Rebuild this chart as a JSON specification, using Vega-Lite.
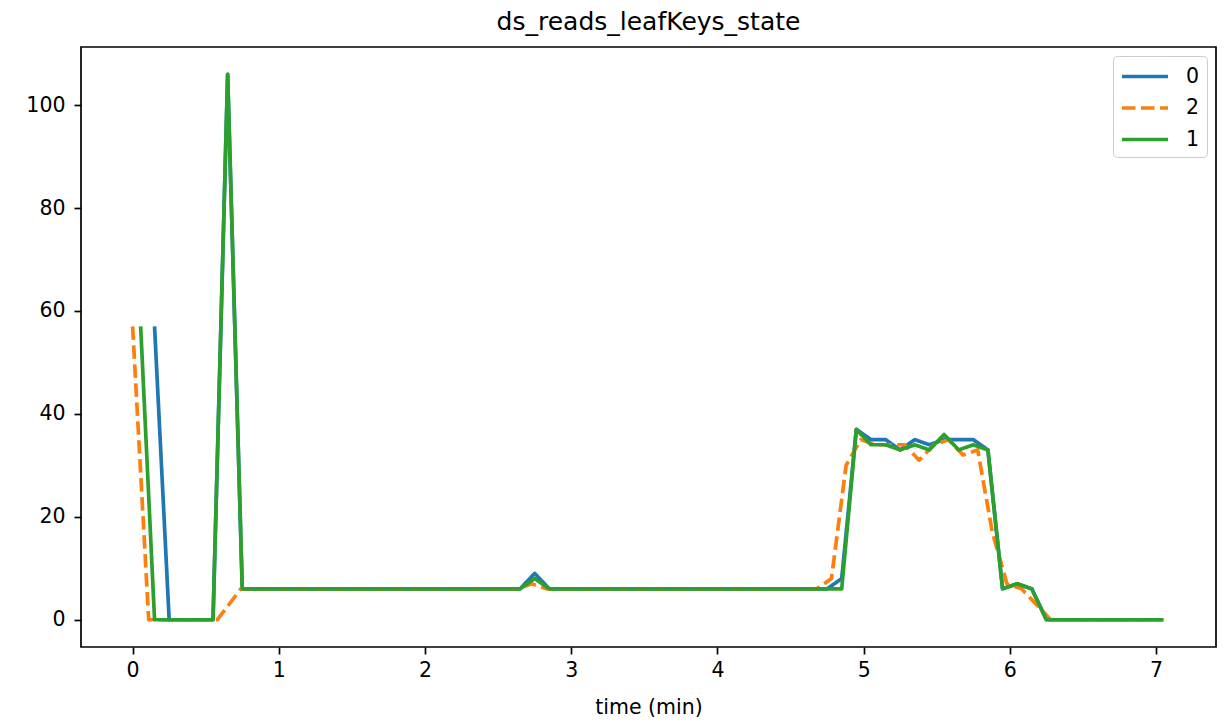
{
  "$schema": "https://vega.github.io/schema/vega-lite/v6.json",
  "width": 1135,
  "height": 600,
  "autosize": {"type": "none"},
  "padding": {"left": 81, "top": 47, "right": 10, "bottom": 78},
  "background": "white",
  "title": {"text": "ds_reads_leafKeys_state", "font": "DejaVu Sans", "fontSize": 25, "fontWeight": "normal", "color": "black", "baseline": "alphabetic", "offset": -8},
  "data": {"values": [
    {"time": 0.15, "value": 57, "series": "0"},
    {"time": 0.25, "value": 0, "series": "0"},
    {"time": 0.35, "value": 0, "series": "0"},
    {"time": 0.45, "value": 0, "series": "0"},
    {"time": 0.55, "value": 0, "series": "0"},
    {"time": 0.65, "value": 106, "series": "0"},
    {"time": 0.75, "value": 6, "series": "0"},
    {"time": 0.85, "value": 6, "series": "0"},
    {"time": 0.95, "value": 6, "series": "0"},
    {"time": 1.05, "value": 6, "series": "0"},
    {"time": 1.15, "value": 6, "series": "0"},
    {"time": 1.25, "value": 6, "series": "0"},
    {"time": 1.35, "value": 6, "series": "0"},
    {"time": 1.45, "value": 6, "series": "0"},
    {"time": 1.55, "value": 6, "series": "0"},
    {"time": 1.65, "value": 6, "series": "0"},
    {"time": 1.75, "value": 6, "series": "0"},
    {"time": 1.85, "value": 6, "series": "0"},
    {"time": 1.95, "value": 6, "series": "0"},
    {"time": 2.05, "value": 6, "series": "0"},
    {"time": 2.15, "value": 6, "series": "0"},
    {"time": 2.25, "value": 6, "series": "0"},
    {"time": 2.35, "value": 6, "series": "0"},
    {"time": 2.45, "value": 6, "series": "0"},
    {"time": 2.55, "value": 6, "series": "0"},
    {"time": 2.65, "value": 6, "series": "0"},
    {"time": 2.75, "value": 9, "series": "0"},
    {"time": 2.85, "value": 6, "series": "0"},
    {"time": 2.95, "value": 6, "series": "0"},
    {"time": 3.05, "value": 6, "series": "0"},
    {"time": 3.15, "value": 6, "series": "0"},
    {"time": 3.25, "value": 6, "series": "0"},
    {"time": 3.35, "value": 6, "series": "0"},
    {"time": 3.45, "value": 6, "series": "0"},
    {"time": 3.55, "value": 6, "series": "0"},
    {"time": 3.65, "value": 6, "series": "0"},
    {"time": 3.75, "value": 6, "series": "0"},
    {"time": 3.85, "value": 6, "series": "0"},
    {"time": 3.95, "value": 6, "series": "0"},
    {"time": 4.05, "value": 6, "series": "0"},
    {"time": 4.15, "value": 6, "series": "0"},
    {"time": 4.25, "value": 6, "series": "0"},
    {"time": 4.35, "value": 6, "series": "0"},
    {"time": 4.45, "value": 6, "series": "0"},
    {"time": 4.55, "value": 6, "series": "0"},
    {"time": 4.65, "value": 6, "series": "0"},
    {"time": 4.75, "value": 6, "series": "0"},
    {"time": 4.85, "value": 8, "series": "0"},
    {"time": 4.95, "value": 37, "series": "0"},
    {"time": 5.05, "value": 35, "series": "0"},
    {"time": 5.15, "value": 35, "series": "0"},
    {"time": 5.25, "value": 33, "series": "0"},
    {"time": 5.35, "value": 35, "series": "0"},
    {"time": 5.45, "value": 34, "series": "0"},
    {"time": 5.55, "value": 35, "series": "0"},
    {"time": 5.65, "value": 35, "series": "0"},
    {"time": 5.75, "value": 35, "series": "0"},
    {"time": 5.85, "value": 33, "series": "0"},
    {"time": 5.95, "value": 6, "series": "0"},
    {"time": 6.05, "value": 7, "series": "0"},
    {"time": 6.15, "value": 6, "series": "0"},
    {"time": 6.25, "value": 0, "series": "0"},
    {"time": 6.35, "value": 0, "series": "0"},
    {"time": 6.45, "value": 0, "series": "0"},
    {"time": 6.55, "value": 0, "series": "0"},
    {"time": 6.65, "value": 0, "series": "0"},
    {"time": 6.75, "value": 0, "series": "0"},
    {"time": 6.85, "value": 0, "series": "0"},
    {"time": 6.95, "value": 0, "series": "0"},
    {"time": 7.05, "value": 0, "series": "0"},

    {"time": 0.0, "value": 57, "series": "2"},
    {"time": 0.11, "value": 0, "series": "2"},
    {"time": 0.23, "value": 0, "series": "2"},
    {"time": 0.33, "value": 0, "series": "2"},
    {"time": 0.43, "value": 0, "series": "2"},
    {"time": 0.58, "value": 0, "series": "2"},
    {"time": 0.74, "value": 6, "series": "2"},
    {"time": 0.83, "value": 6, "series": "2"},
    {"time": 0.93, "value": 6, "series": "2"},
    {"time": 1.03, "value": 6, "series": "2"},
    {"time": 1.13, "value": 6, "series": "2"},
    {"time": 1.23, "value": 6, "series": "2"},
    {"time": 1.33, "value": 6, "series": "2"},
    {"time": 1.43, "value": 6, "series": "2"},
    {"time": 1.53, "value": 6, "series": "2"},
    {"time": 1.63, "value": 6, "series": "2"},
    {"time": 1.73, "value": 6, "series": "2"},
    {"time": 1.83, "value": 6, "series": "2"},
    {"time": 1.93, "value": 6, "series": "2"},
    {"time": 2.03, "value": 6, "series": "2"},
    {"time": 2.13, "value": 6, "series": "2"},
    {"time": 2.23, "value": 6, "series": "2"},
    {"time": 2.33, "value": 6, "series": "2"},
    {"time": 2.43, "value": 6, "series": "2"},
    {"time": 2.53, "value": 6, "series": "2"},
    {"time": 2.63, "value": 6, "series": "2"},
    {"time": 2.73, "value": 7, "series": "2"},
    {"time": 2.83, "value": 6, "series": "2"},
    {"time": 2.93, "value": 6, "series": "2"},
    {"time": 3.03, "value": 6, "series": "2"},
    {"time": 3.13, "value": 6, "series": "2"},
    {"time": 3.23, "value": 6, "series": "2"},
    {"time": 3.33, "value": 6, "series": "2"},
    {"time": 3.43, "value": 6, "series": "2"},
    {"time": 3.53, "value": 6, "series": "2"},
    {"time": 3.63, "value": 6, "series": "2"},
    {"time": 3.73, "value": 6, "series": "2"},
    {"time": 3.83, "value": 6, "series": "2"},
    {"time": 3.93, "value": 6, "series": "2"},
    {"time": 4.03, "value": 6, "series": "2"},
    {"time": 4.13, "value": 6, "series": "2"},
    {"time": 4.23, "value": 6, "series": "2"},
    {"time": 4.33, "value": 6, "series": "2"},
    {"time": 4.43, "value": 6, "series": "2"},
    {"time": 4.53, "value": 6, "series": "2"},
    {"time": 4.68, "value": 6, "series": "2"},
    {"time": 4.78, "value": 8, "series": "2"},
    {"time": 4.88, "value": 30, "series": "2"},
    {"time": 4.98, "value": 35, "series": "2"},
    {"time": 5.08, "value": 34, "series": "2"},
    {"time": 5.18, "value": 34, "series": "2"},
    {"time": 5.28, "value": 34, "series": "2"},
    {"time": 5.38, "value": 31, "series": "2"},
    {"time": 5.48, "value": 34, "series": "2"},
    {"time": 5.58, "value": 35, "series": "2"},
    {"time": 5.68, "value": 32, "series": "2"},
    {"time": 5.78, "value": 33, "series": "2"},
    {"time": 5.88, "value": 17, "series": "2"},
    {"time": 5.98, "value": 7, "series": "2"},
    {"time": 6.08, "value": 6, "series": "2"},
    {"time": 6.18, "value": 3, "series": "2"},
    {"time": 6.28, "value": 0, "series": "2"},
    {"time": 6.38, "value": 0, "series": "2"},
    {"time": 6.48, "value": 0, "series": "2"},
    {"time": 6.58, "value": 0, "series": "2"},
    {"time": 6.68, "value": 0, "series": "2"},
    {"time": 6.78, "value": 0, "series": "2"},
    {"time": 6.88, "value": 0, "series": "2"},
    {"time": 6.98, "value": 0, "series": "2"},

    {"time": 0.055, "value": 57, "series": "1"},
    {"time": 0.15, "value": 0, "series": "1"},
    {"time": 0.25, "value": 0, "series": "1"},
    {"time": 0.35, "value": 0, "series": "1"},
    {"time": 0.45, "value": 0, "series": "1"},
    {"time": 0.55, "value": 0, "series": "1"},
    {"time": 0.65, "value": 106, "series": "1"},
    {"time": 0.75, "value": 6, "series": "1"},
    {"time": 0.85, "value": 6, "series": "1"},
    {"time": 0.95, "value": 6, "series": "1"},
    {"time": 1.05, "value": 6, "series": "1"},
    {"time": 1.15, "value": 6, "series": "1"},
    {"time": 1.25, "value": 6, "series": "1"},
    {"time": 1.35, "value": 6, "series": "1"},
    {"time": 1.45, "value": 6, "series": "1"},
    {"time": 1.55, "value": 6, "series": "1"},
    {"time": 1.65, "value": 6, "series": "1"},
    {"time": 1.75, "value": 6, "series": "1"},
    {"time": 1.85, "value": 6, "series": "1"},
    {"time": 1.95, "value": 6, "series": "1"},
    {"time": 2.05, "value": 6, "series": "1"},
    {"time": 2.15, "value": 6, "series": "1"},
    {"time": 2.25, "value": 6, "series": "1"},
    {"time": 2.35, "value": 6, "series": "1"},
    {"time": 2.45, "value": 6, "series": "1"},
    {"time": 2.55, "value": 6, "series": "1"},
    {"time": 2.65, "value": 6, "series": "1"},
    {"time": 2.75, "value": 8, "series": "1"},
    {"time": 2.85, "value": 6, "series": "1"},
    {"time": 2.95, "value": 6, "series": "1"},
    {"time": 3.05, "value": 6, "series": "1"},
    {"time": 3.15, "value": 6, "series": "1"},
    {"time": 3.25, "value": 6, "series": "1"},
    {"time": 3.35, "value": 6, "series": "1"},
    {"time": 3.45, "value": 6, "series": "1"},
    {"time": 3.55, "value": 6, "series": "1"},
    {"time": 3.65, "value": 6, "series": "1"},
    {"time": 3.75, "value": 6, "series": "1"},
    {"time": 3.85, "value": 6, "series": "1"},
    {"time": 3.95, "value": 6, "series": "1"},
    {"time": 4.05, "value": 6, "series": "1"},
    {"time": 4.15, "value": 6, "series": "1"},
    {"time": 4.25, "value": 6, "series": "1"},
    {"time": 4.35, "value": 6, "series": "1"},
    {"time": 4.45, "value": 6, "series": "1"},
    {"time": 4.55, "value": 6, "series": "1"},
    {"time": 4.65, "value": 6, "series": "1"},
    {"time": 4.75, "value": 6, "series": "1"},
    {"time": 4.85, "value": 6, "series": "1"},
    {"time": 4.95, "value": 37, "series": "1"},
    {"time": 5.05, "value": 34, "series": "1"},
    {"time": 5.15, "value": 34, "series": "1"},
    {"time": 5.25, "value": 33, "series": "1"},
    {"time": 5.35, "value": 34, "series": "1"},
    {"time": 5.45, "value": 33, "series": "1"},
    {"time": 5.55, "value": 36, "series": "1"},
    {"time": 5.65, "value": 33, "series": "1"},
    {"time": 5.75, "value": 34, "series": "1"},
    {"time": 5.85, "value": 33, "series": "1"},
    {"time": 5.95, "value": 6, "series": "1"},
    {"time": 6.05, "value": 7, "series": "1"},
    {"time": 6.15, "value": 6, "series": "1"},
    {"time": 6.25, "value": 0, "series": "1"},
    {"time": 6.35, "value": 0, "series": "1"},
    {"time": 6.45, "value": 0, "series": "1"},
    {"time": 6.55, "value": 0, "series": "1"},
    {"time": 6.65, "value": 0, "series": "1"},
    {"time": 6.75, "value": 0, "series": "1"},
    {"time": 6.85, "value": 0, "series": "1"},
    {"time": 6.95, "value": 0, "series": "1"},
    {"time": 7.05, "value": 0, "series": "1"}
  ]},
  "mark": {"type": "line", "strokeWidth": 3.7, "strokeCap": "butt", "strokeJoin": "round"},
  "encoding": {
    "x": {"field": "time", "type": "quantitative",
      "scale": {"domain": [-0.353, 7.41], "nice": false, "zero": false},
      "axis": {"title": "time (min)", "values": [0, 1, 2, 3, 4, 5, 6, 7], "format": "d"}},
    "y": {"field": "value", "type": "quantitative",
      "scale": {"domain": [-5.3, 111.3], "nice": false, "zero": false},
      "axis": {"title": null, "values": [0, 20, 40, 60, 80, 100], "format": "d"}},
    "color": {"field": "series", "type": "nominal",
      "scale": {"domain": ["0", "2", "1"], "range": ["#1f77b4", "#ff7f0e", "#2ca02c"]},
      "legend": {"title": null}},
    "strokeDash": {"field": "series", "type": "nominal",
      "scale": {"domain": ["0", "2", "1"], "range": [[1, 0], [13.5, 5.5], [1, 0]]},
      "legend": {"title": null}},
    "order": {"field": "time", "type": "quantitative"}
  },
  "config": {
    "font": "DejaVu Sans",
    "view": {"stroke": "black", "strokeWidth": 1.7},
    "axis": {
      "grid": false,
      "domain": false,
      "tickColor": "black",
      "tickWidth": 1.7,
      "tickSize": 7,
      "labelFont": "DejaVu Sans",
      "labelFontSize": 20.5,
      "labelColor": "black",
      "titleFont": "DejaVu Sans",
      "titleFontSize": 20.5,
      "titleFontWeight": "normal",
      "titleColor": "black"
    },
    "axisX": {"labelPadding": 6, "titlePadding": 17},
    "axisY": {"labelPadding": 9},
    "legend": {
      "orient": "top-right",
      "offset": 9,
      "fillColor": "white",
      "strokeColor": "#cccccc",
      "cornerRadius": 4,
      "padding": 7,
      "symbolType": "M-1,0H3",
      "symbolSize": 529,
      "symbolStrokeWidth": 3.7,
      "labelFont": "DejaVu Sans",
      "labelFontSize": 20.5,
      "labelColor": "black",
      "labelOffset": 39,
      "rowPadding": 7.5
    }
  }
}
